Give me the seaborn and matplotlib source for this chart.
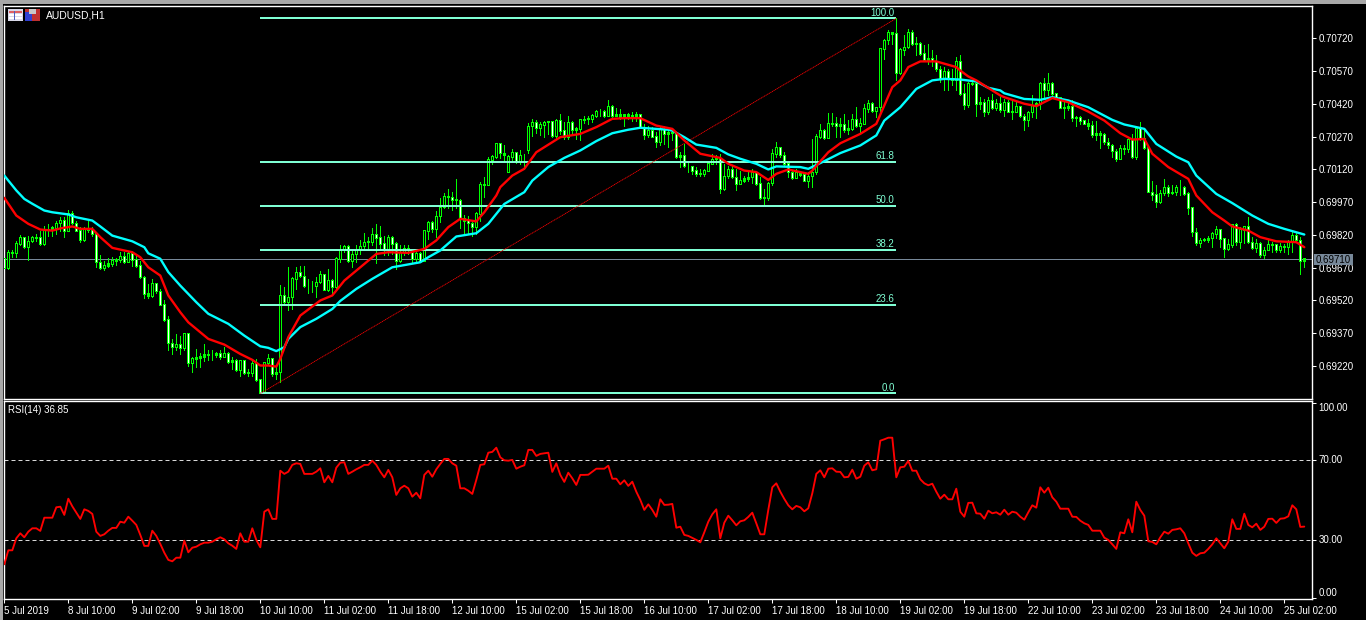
import numpy as np
import matplotlib
matplotlib.use("Agg")
import matplotlib.pyplot as plt
from matplotlib.patches import Rectangle
import seaborn as sns

# All prices in points above 0.69000 (1 point = 0.00001)
BASE = 0.69
close_pts = [
668,738,738,779,807,764,791,807,807,779,
843,843,853,874,886,840,917,874,840,799,
843,843,825,695,668,680,688,703,706,721,
695,733,706,680,627,550,541,596,562,500,
431,324,306,317,301,367,233,252,257,263,
272,268,268,275,260,278,237,245,202,245,
187,190,233,156,95,234,252,184,191,543,
512,535,619,646,630,584,584,584,604,637,
569,611,581,711,749,767,703,731,749,769,
787,788,822,807,779,756,807,779,700,741,
759,752,711,733,703,840,875,848,905,947,
996,993,981,978,894,886,874,856,917,1050,
1050,1164,1179,1237,1195,1184,1179,1196,1158,1184,
1184,1318,1334,1309,1324,1337,1338,1272,1344,1298,
1268,1334,1303,1306,1347,1349,1352,1367,1387,1387,
1364,1408,1364,1370,1360,1370,1367,1363,1370,1314,
1276,1298,1271,1245,1301,1283,1288,1288,1176,1184,
1135,1134,1115,1100,1100,1115,1146,1166,1169,1031,
1088,1118,1085,1054,1069,1077,1085,1108,1054,990,
989,1057,1192,1222,1184,1146,1108,1080,1105,1095,
1069,1088,1108,1271,1298,1265,1329,1332,1317,1326,
1301,1306,1347,1317,1329,1398,1421,1387,1405,1673,
1711,1749,1741,1561,1668,1680,1749,1695,1695,1650,
1622,1627,1615,1578,1535,1570,1535,1532,1615,1466,
1413,1512,1512,1421,1425,1382,1436,1402,1421,1393,
1425,1385,1382,1408,1364,1347,1382,1413,1421,1515,
1482,1512,1466,1451,1402,1401,1408,1355,1360,1344,
1329,1321,1280,1283,1280,1245,1230,1204,1169,1214,
1214,1256,1179,1306,1260,1219,1016,1004,973,1011,
1039,1013,1016,1039,1039,1008,944,833,784,795,
798,805,825,845,802,756,775,866,787,845,
859,787,759,782,726,749,776,776,749,767,
767,787,817,795,703,710]
high_pts = [
711,749,749,791,822,807,813,817,825,840,
863,868,859,886,901,901,935,932,883,856,
856,886,856,833,730,703,715,721,715,741,
741,741,746,733,703,634,596,619,599,573,
520,451,344,367,359,367,367,260,298,278,
321,291,291,283,291,306,283,260,252,248,
248,207,252,252,161,237,275,252,222,593,
581,672,627,672,680,680,619,611,627,657,
642,665,619,718,772,772,772,749,772,795,
830,810,853,871,863,817,822,817,787,772,
772,772,741,756,741,840,883,886,932,988,
1013,1031,1016,1077,985,912,909,886,924,1062,
1085,1176,1184,1242,1240,1230,1184,1214,1199,1207,
1189,1332,1349,1347,1337,1340,1340,1344,1352,1375,
1337,1367,1344,1314,1352,1364,1363,1375,1393,1398,
1393,1436,1413,1402,1398,1375,1379,1382,1382,1360,
1329,1321,1314,1291,1321,1318,1306,1306,1291,1199,
1237,1161,1138,1131,1123,1123,1161,1192,1184,1189,
1146,1138,1138,1123,1115,1092,1115,1123,1115,1085,
1031,1062,1214,1245,1222,1199,1138,1115,1123,1108,
1108,1108,1260,1283,1326,1306,1378,1379,1360,1357,
1375,1347,1372,1405,1357,1418,1436,1428,1408,1676,
1718,1757,1749,1812,1676,1734,1764,1757,1726,1703,
1688,1695,1668,1642,1596,1589,1581,1581,1634,1642,
1512,1520,1528,1520,1451,1443,1451,1466,1443,1451,
1443,1440,1436,1428,1405,1375,1390,1462,1428,1520,
1540,1563,1520,1471,1451,1428,1433,1436,1367,1363,
1341,1352,1344,1344,1298,1286,1265,1237,1214,1230,
1234,1271,1283,1321,1337,1306,1230,1065,1047,1024,
1077,1050,1047,1047,1072,1042,1016,947,853,807,
807,813,833,859,848,807,802,871,874,856,
863,904,810,802,787,764,795,787,779,782,
779,795,833,833,810,710]
low_pts = [
665,665,718,721,772,761,706,787,791,775,
772,813,813,825,840,810,837,871,837,787,
791,833,817,675,665,660,675,680,683,695,
691,706,680,672,624,532,532,535,553,497,
425,291,275,291,275,291,222,191,214,214,
245,248,248,260,252,260,233,207,199,172,
184,176,176,153,95,95,230,176,161,146,
497,477,481,573,627,581,553,558,535,599,
566,562,543,578,695,741,695,672,695,731,
749,759,772,691,749,726,726,733,663,695,
726,733,691,703,703,711,802,833,810,879,
944,944,935,944,853,825,825,817,825,886,
993,1047,1146,1173,1173,1161,1108,1153,1150,1146,
1123,1195,1272,1286,1276,1271,1283,1268,1265,1283,
1260,1260,1276,1260,1253,1332,1329,1337,1360,1363,
1360,1375,1360,1363,1352,1318,1352,1344,1344,1314,
1260,1271,1268,1225,1234,1237,1225,1253,1173,1130,
1131,1108,1100,1092,1092,1092,1111,1146,1146,1011,
1024,1082,1082,1027,1054,1062,1066,1057,1047,985,
959,978,1047,1176,1179,1138,1085,1077,1080,1088,
1066,1039,1039,1100,1265,1260,1265,1317,1268,1271,
1291,1283,1301,1314,1291,1329,1382,1382,1360,1390,
1627,1695,1695,1528,1558,1642,1677,1688,1642,1642,
1619,1604,1596,1570,1520,1482,1482,1505,1482,1459,
1398,1408,1505,1363,1398,1367,1372,1398,1393,1382,
1367,1382,1349,1382,1360,1301,1321,1360,1355,1398,
1443,1459,1462,1443,1402,1355,1393,1344,1321,1326,
1326,1306,1271,1256,1218,1237,1219,1176,1158,1169,
1192,1199,1173,1169,1256,1214,1016,978,950,966,
1001,998,1008,1001,1001,1001,917,813,772,764,
791,787,764,807,764,718,749,764,772,761,
782,782,756,741,718,715,749,744,741,741,
741,733,741,787,639,675]
first_open_pts = 711
gap_open_bars = [126, 131]
gap_open_pts = [1108, 1210]

cyan_bars = [0,3,5,7,10,12,16,18,22,24,27,32,35,36,39,41,44,48,51,56,60,64,66,68,70,71,74,78,82,84,
 88,92,97,104,106,109,113,118,121,125,130,132,136,140,144,148,152,156,159,166,
 167,170,173,178,181,184,188,191,193,199,201,205,209,214,218,220,224,228,232,235,239,243,246,249,
 250,255,259,262,266,271,277,280,285,288,293,296,298,303,307,312,316,320,325]
cyan_pts = [1092,1024,985,963,932,924,914,901,886,859,817,791,764,736,711,650,588,512,459,413,359,310,303,288,306,344,398,436,481,518,
 573,619,672,695,718,749,813,828,871,962,1016,1069,1131,1173,1207,1250,1286,1302,1311,1302,
 1298,1268,1234,1219,1189,1169,1146,1120,1134,1131,1123,1158,1195,1230,1276,1344,1405,1489,1528,1535,1532,1523,1494,1482,
 1469,1443,1439,1451,1436,1405,1347,1326,1306,1237,1179,1153,1092,1008,966,909,871,848,822]
red_bars = [0,3,6,9,12,14,17,19,22,24,27,32,34,36,39,41,44,46,51,55,59,62,64,66,68,69,71,74,79,82,84,
 85,89,93,96,101,105,108,111,114,118,120,123,124,127,130,133,137,139,144,148,152,155,159,163,
 167,170,174,179,181,185,188,191,193,196,201,202,206,209,214,218,222,224,226,229,233,238,239,241,243,249,
 250,255,258,262,266,271,275,279,282,285,287,291,296,298,302,305,307,311,314,318,323,325]
red_pts = [990,909,871,845,840,850,859,848,848,810,761,741,718,672,634,543,466,420,344,318,275,248,222,222,217,252,352,451,520,543,588,
 611,672,733,741,738,756,795,856,894,882,924,1001,1039,1092,1123,1199,1245,1268,1283,1314,1352,1355,1355,1321,
 1306,1253,1192,1173,1146,1115,1108,1072,1100,1120,1100,1115,1199,1240,1283,1329,1497,1528,1589,1615,1615,1589,1573,1546,1528,1459,
 1451,1421,1410,1447,1428,1385,1344,1286,1257,1260,1192,1131,1077,1001,924,886,859,840,810,791,787,764]

rsi = [
18,25,25,31,33.5,31.5,34.3,36,36,34.7,
41.3,41.3,41.3,46.5,46.8,42.7,50.8,47,43.8,40.7,
45.5,44.7,43.2,34.3,32.2,33,34.8,36.2,36.2,39.3,
38.8,41.8,39.8,37.7,32.7,27.2,27.2,34.8,32.2,28.2,
23.8,20.2,19.5,21.3,21.3,29.8,24,26.3,26.8,28,
28.8,28.8,29.3,30.5,31.5,30.5,28.5,27.3,25.7,33.5,
29.3,29.3,36,30.2,26.5,44.3,45.5,40.7,40.7,64.8,
63.2,64.3,67.7,68.5,68.2,63.2,63.2,63.2,64.3,66,
59,62.2,59,66.3,68.8,69,63.2,64.3,65.5,66.5,
67.7,67.7,69.8,67.7,64.3,61.5,65.2,61.5,52.7,56,
57.3,56,51.8,53.8,51,62.7,64.8,61.8,65.5,68.2,
70.7,70.7,68.5,67.3,56,56,54.8,53.2,60.2,67.7,
68,73.8,74.2,76.3,71.5,70,69.8,70.2,65.8,66.8,
67.5,75.2,75.2,72.2,73.2,73.5,73.8,64.2,68.5,62.7,
59.2,63.8,61,57.7,62.7,62.7,62.8,64.3,65.8,65.8,
65.8,67.3,60.8,60.8,58,60,57.2,59.3,54.3,50.2,
45.2,48,45.2,41.8,50.5,47.7,47.8,48.2,36.3,36.8,
32.7,32.2,31.2,30.2,29,34,39.3,43,45.5,31,
38.8,42.3,40,37.5,39.5,40,41.7,43.8,38.5,33,
33,45.2,56.5,58.5,54.3,50.7,47.5,45.5,47.2,46.5,
44.5,46,53.5,63.2,65,61.5,65.8,66,64.3,64.2,
61.5,61.7,65.3,60.8,61.8,67.3,69,65,65.5,79.8,
80.5,81.3,81.3,61.5,66.5,66.8,69.7,64.8,64.8,60.5,
58.5,57.5,58.3,54.3,50.8,52.8,50.5,50.5,55.8,44.3,
41.8,48.7,48.8,43.5,43.3,40.8,44.8,43.5,44,42.8,
45.3,42.8,44.3,43.8,41.8,40.3,44,47.5,46.3,56.5,
53.8,56.3,51.5,49.3,45.8,45.8,45.8,41.8,41.7,39.8,
38.5,37.7,34.8,34.8,34.8,31.3,30.2,28,25.7,34,
33.5,40.5,34,49.3,45.2,42.3,29.5,29.2,28,31.5,
34.3,33.3,35.2,35.5,36,33.5,28.5,23.8,22.2,23.5,
23.8,25.7,28,31,28.5,26,29.3,40.5,35.7,35.7,
43.3,37.7,36.5,38.3,35.2,36.8,40.7,40.8,38.7,40.8,
41,42,47.5,45.5,36.7,36.85]

price_ticks = ["0.70720","0.70570","0.70420","0.70270","0.70120","0.69970","0.69820","0.69670","0.69520","0.69370","0.69220"]
time_ticks = ["5 Jul 2019","8 Jul 10:00","9 Jul 02:00","9 Jul 18:00","10 Jul 10:00","11 Jul 02:00","11 Jul 18:00",
 "12 Jul 10:00","15 Jul 02:00","15 Jul 18:00","16 Jul 10:00","17 Jul 02:00","17 Jul 18:00","18 Jul 10:00",
 "19 Jul 02:00","19 Jul 18:00","22 Jul 10:00","23 Jul 02:00","23 Jul 18:00","24 Jul 10:00","25 Jul 02:00"]
fib_levels = [0.0,23.6,38.2,50.0,61.8,100.0]
fib_low, fib_high = 0.69094, 0.70812
fib_start_bar, fib_end_bar = 64, 223
last_price = 0.69710
rsi_levels = [70,30]

WHITE="#ffffff"; LIME="#00ff00"; FIB="#7fffd4"; GREY="#778899"
W,H=1366,620
PX=72/100
sns.set_style("dark")
plt.rcParams['font.family']=['Liberation Sans','DejaVu Sans']
plt.rcParams['font.size']=7
fig=plt.figure(figsize=(W/100,H/100),dpi=100,facecolor="black")
def rect(l,t,r,b): return [l/W,1-b/H,(r-l)/W,(b-t)/H]
ax=fig.add_axes(rect(4.3,5.5,1311.5,398.5),facecolor="black")
rx=fig.add_axes(rect(4.3,401,1311.5,599),facecolor="black")

close=BASE+np.array(close_pts)*1e-5
high=BASE+np.array(high_pts)*1e-5
low=BASE+np.array(low_pts)*1e-5
opn=np.r_[BASE+first_open_pts*1e-5,close[:-1]]
for b,o in zip(gap_open_bars,gap_open_pts): opn[b]=BASE+o*1e-5
bars=np.arange(len(close))
top=np.maximum(opn,close); bot=np.minimum(opn,close)
ONE_PX=0.0000458

ax.axhline(last_price,color=GREY,lw=PX,zorder=1)
ax.vlines(bars,low,high,color=LIME,lw=PX,antialiased=False,zorder=2)
ax.vlines(bars,bot,top+ONE_PX*0.5,color=LIME,lw=3*PX,antialiased=False,capstyle="butt",zorder=3)
tall=(top-bot)>2.2*ONE_PX
for mask,c in ((tall&(close<opn),"white"),(tall&(close>=opn),"black")):
    ax.vlines(bars[mask],bot[mask]+ONE_PX,top[mask]-ONE_PX*0.5,color=c,lw=PX,antialiased=False,capstyle="butt",zorder=3.5)
for lv in fib_levels:
    y=fib_low+(fib_high-fib_low)*lv/100
    ax.hlines(y,fib_start_bar,fib_end_bar,color=FIB,lw=2*PX,antialiased=False,zorder=4)
    ax.text(fib_end_bar-0.4,y+0.00004,f"{lv:.1f}",color=FIB,fontsize=7,ha="right",va="bottom",zorder=7)
ax.plot([fib_start_bar,fib_end_bar],[fib_low,fib_high],color="#ff0000",lw=0.6,ls=(0,(1.5,0.7)),zorder=4)
sns.lineplot(x=cyan_bars,y=BASE+np.array(cyan_pts)*1e-5,color="#00ffff",linewidth=1.7,ax=ax,estimator=None,sort=False,legend=False,zorder=5)
sns.lineplot(x=red_bars,y=BASE+np.array(red_pts)*1e-5,color="#ff0000",linewidth=1.7,ax=ax,estimator=None,sort=False,legend=False,zorder=6)

xl=(0,326.8)
ax.set_xlim(xl); ax.set_ylim(0.69071,0.70871)
ax.set_xticks([])
ax.yaxis.tick_right()
ax.set_yticks([float(t) for t in price_ticks]); ax.set_yticklabels(price_ticks)
for r in rsi_levels:
    rx.axhline(r,color="#d8d8d8",lw=PX,ls=(0,(4,3)),zorder=1)
sns.lineplot(x=bars,y=rsi,color="#ff0000",linewidth=1.35,ax=rx,estimator=None,sort=False,legend=False,zorder=3)
rx.set_xlim(xl); rx.set_ylim(0.65,99.65)
rx.yaxis.tick_right()
rx.set_yticks([1,30,70,98.5]); rx.set_yticklabels(["0.00","30.00","70.00","100.00"])
for lab,va in zip(rx.get_yticklabels(),["bottom","center","center","top"]): lab.set_va(va)
rx.set_xticks(np.arange(len(time_ticks))*16)
rx.set_xticklabels(time_ticks,ha="left")
for a in (ax,rx):
    a.grid(False)
    a.set_xlabel(""); a.set_ylabel("")
    for s in a.spines.values(): s.set_color(WHITE); s.set_linewidth(1.0); s.set_visible(True)
    a.tick_params(axis="both",colors=WHITE,labelcolor=WHITE,length=3,width=0.75,labelsize=7,pad=2,bottom=a is rx,right=True,left=False)

def pt(x,y,s,**k): fig.text(x/W,1-y/H,s,**k)
pt(46,15.5,"AUDUSD,H1",color=WHITE,fontsize=7.5,va="center",ha="left")
pt(8,410,"RSI(14) 36.85",color=WHITE,fontsize=7,va="center",ha="left")
def box(l,t,r,b,c,z=10):
    fig.add_artist(Rectangle((l/W,1-b/H),(r-l)/W,(b-t)/H,transform=fig.transFigure,facecolor=c,edgecolor="none",zorder=z))
box(0,0,W,3.5,"#a8a8a8"); box(0,0,2.5,H,"#a8a8a8")
box(1314,254,1353,265,GREY)
pt(1333.5,259.6,"0.69710",color="black",fontsize=7,va="center",ha="center",zorder=11)
# window icons
box(8,9,23,21,"#d8d8e8")
for y in (11,14,17): box(9,y,22,y+2,"#e06060" if y==11 else "#ffffff")
box(14,11,15,20,"#5060c0")
box(25,9,40,21,"#c03030"); box(25,12,32,21,"#3040d0"); box(29,9,36,14,"#c8c8c8")
fig.savefig("out.png",dpi=100,facecolor="black")
